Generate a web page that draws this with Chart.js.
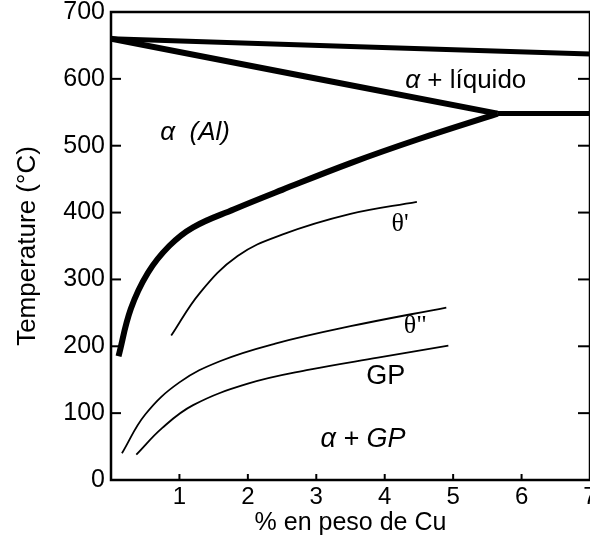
<!DOCTYPE html>
<html>
<head>
<meta charset="utf-8">
<script src="https://cdn.jsdelivr.net/npm/chart.js@4.4.1/dist/chart.umd.min.js"></script>
<style>
  html, body { margin: 0; padding: 0; background: #fff; overflow: hidden; }
  canvas { display: block; }
</style>
</head>
<body>
<canvas id="myChart" width="590" height="539"></canvas>
<script>
// Al-Cu phase boundaries, wt% Cu vs temperature (°C)
var liquidusCu = [0, 7];
var liquidusT = [660, 637];
var solidusCu = [0, 5.65];
var solidusT = [660, 548];
var eutecticCu = [5.65, 7];
var eutecticT = [548, 548];
var solvusCu = [0.11, 0.29, 0.54, 0.85, 1.2, 1.8, 2.5, 3.5, 4.5, 5.65];
var solvusT = [185, 256, 310, 350, 378, 405, 434, 474, 510, 548];

// metastable solvus lines
var thetaPCu = [0.88, 1.3, 1.85, 2.5, 3.5, 4.47];
var thetaPT = [216, 280, 335, 367, 398, 416];
var thetaPPCu = [0.16, 0.5, 1.0, 1.6, 2.4, 3.5, 4.9];
var thetaPPT = [40, 98, 146, 178, 204, 230, 258];
var gpCu = [0.37, 0.75, 1.2, 2.0, 2.9, 3.9, 4.93];
var gpT = [38, 78, 112, 144, 165, 183, 201];

var cuTicks = [1, 2, 3, 4, 5, 6, 7];
var tempTicks = [0, 100, 200, 300, 400, 500, 600, 700];

function pts(xs, ys) {
  return xs.map(function (x, i) { return { x: x, y: ys[i] }; });
}

function curve(xs, ys, w) {
  return {
    data: pts(xs, ys),
    borderColor: '#000',
    borderWidth: w,
    pointRadius: 0,
    fill: false,
    tension: 0.4,
    borderCapStyle: 'butt'
  };
}

// region labels, placed in data units
var regionLabels = [
  { parts: [['italic 26px "Liberation Sans"', 'α  (Al)']], cu: 0.72, t: 520 },
  { parts: [['italic 26px "Liberation Sans"', 'α '], ['26px "Liberation Sans"', '+ líquido']], cu: 4.3, t: 597 },
  { parts: [['26px "Liberation Serif"', "θ'"]], cu: 4.1, t: 382 },
  { parts: [['26px "Liberation Serif"', 'θ"']], cu: 4.28, t: 230 },
  { parts: [['27px "Liberation Sans"', 'GP']], cu: 3.73, t: 154 },
  { parts: [['italic 27px "Liberation Sans"', 'α + GP']], cu: 3.06, t: 60 }
];

var frame = {
  id: 'frame',
  afterDraw: function (chart) {
    var ctx = chart.ctx, a = chart.chartArea;
    var xs = chart.scales.x, ys = chart.scales.y;
    function seg(x1, y1, x2, y2) {
      ctx.beginPath(); ctx.moveTo(x1, y1); ctx.lineTo(x2, y2); ctx.stroke();
    }
    ctx.save();
    ctx.strokeStyle = '#000';
    ctx.lineWidth = 2.5;
    ctx.strokeRect(a.left, a.top, a.right - a.left, a.bottom - a.top);
    ctx.lineWidth = 2;
    tempTicks.forEach(function (t) {
      if (t === 0 || t === 700) return;
      var py = ys.getPixelForValue(t);
      seg(a.left, py, a.left + 10, py);
      seg(a.right, py, a.right - 12, py);
    });
    cuTicks.forEach(function (c) {
      var px = xs.getPixelForValue(c);
      seg(px, a.bottom, px, a.bottom - 6);
    });
    ctx.fillStyle = '#000';
    ctx.textBaseline = 'middle';
    ctx.textAlign = 'left';
    regionLabels.forEach(function (l) {
      var x = xs.getPixelForValue(l.cu), y = ys.getPixelForValue(l.t);
      l.parts.forEach(function (p) {
        ctx.font = p[0];
        ctx.fillText(p[1], x, y);
        x += ctx.measureText(p[1]).width;
      });
    });
    ctx.restore();
  }
};

var chrt = document.getElementById('myChart').getContext('2d');
var chartId = new Chart(chrt, {
  type: 'line',
  data: {
    datasets: [
      curve(liquidusCu, liquidusT, 5),
      curve(solidusCu, solidusT, 6),
      curve(eutecticCu, eutecticT, 5),
      curve(solvusCu, solvusT, 6),
      curve(thetaPCu, thetaPT, 1.8),
      curve(thetaPPCu, thetaPPT, 1.8),
      curve(gpCu, gpT, 1.8)
    ]
  },
  options: {
    responsive: false,
    animation: false,
    layout: { padding: { top: 12, right: 0, bottom: 0, left: 0 } },
    plugins: { legend: { display: false }, tooltip: { enabled: false } },
    scales: {
      x: {
        type: 'linear',
        min: 0,
        max: 7,
        grid: { display: false, drawTicks: false },
        border: { display: false },
        afterBuildTicks: function (s) { s.ticks = cuTicks.map(function (v) { return { value: v }; }); },
        afterFit: function (s) { s.height = 59; s.paddingRight = 0; s.paddingLeft = 0; },
        ticks: { color: '#000', padding: 3, font: { family: 'Liberation Sans', size: 24 } },
        title: {
          display: true,
          text: '% en peso de Cu',
          color: '#000',
          padding: { top: 0, bottom: 1 },
          font: { family: 'Liberation Sans', size: 25 }
        }
      },
      y: {
        min: 0,
        max: 700,
        grid: { display: false, drawTicks: false },
        border: { display: false },
        afterBuildTicks: function (s) { s.ticks = tempTicks.map(function (v) { return { value: v }; }); },
        afterFit: function (s) { s.width = 111; s.paddingTop = 0; s.paddingBottom = 0; },
        ticks: { color: '#000', padding: 6, font: { family: 'Liberation Sans', size: 25 } },
        title: {
          display: true,
          text: 'Temperature (°C)',
          color: '#000',
          padding: { top: 12, bottom: 0 },
          font: { family: 'Liberation Sans', size: 26 }
        }
      }
    }
  },
  plugins: [frame]
});
</script>
</body>
</html>
